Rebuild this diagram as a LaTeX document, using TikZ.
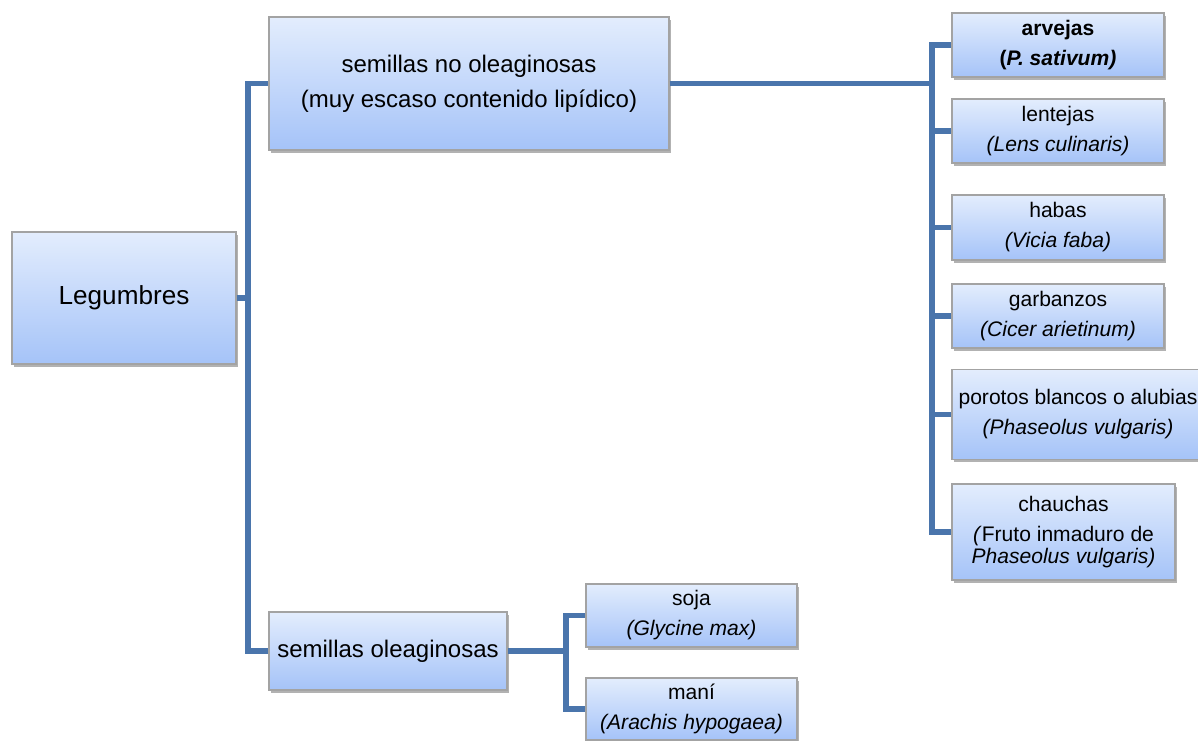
\documentclass[tikz,border=0pt]{standalone}
\usepackage{fontspec}
\setmainfont{Liberation Sans}
\usetikzlibrary{shadows}

\definecolor{linkblue}{HTML}{4A75AC}
\definecolor{boxtop}{HTML}{E3EDFD}
\definecolor{boxbot}{HTML}{A5C3F8}
\definecolor{boxline}{HTML}{A3A3A3}

\tikzset{
  box/.style = {
    draw=boxline, line width=0.8pt, top color=boxtop, bottom color=boxbot,
    align=center, inner sep=0pt,
    drop shadow={shadow xshift=1.5pt, shadow yshift=-2pt, opacity=0.3, fill=black},
    font=\fontsize{15.8}{22.5}\selectfont
  },
  link/.style = {draw=linkblue, line width=3.8pt}
}

\begin{document}
\begin{tikzpicture}[x=0.75pt, y=-0.75pt]
  \useasboundingbox (0,0) rectangle (1198,740);

  % Legumbres
  \node[box, minimum width=168pt, minimum height=99pt, font=\fontsize{19.6}{26}\selectfont]
    (leg) at (124,298) {Legumbres};

  % semillas
  \node[box, minimum width=300pt, minimum height=99.75pt, font=\fontsize{18}{26}\selectfont]
    (sno) at (469,83.5) {semillas no oleaginosas\\(muy escaso contenido lipídico)};
  \node[box, minimum width=178.5pt, minimum height=58.5pt, font=\fontsize{18}{26}\selectfont]
    (sol) at (388,651) {semillas oleaginosas};

  % no oleaginosas
  \node[box, minimum width=159pt, minimum height=48pt] (arv) at (1058,45)
    {\textbf{arvejas}\\\textbf{(\textit{P. sativum)}}};
  \node[box, minimum width=159pt, minimum height=48pt] (len) at (1058,131)
    {lentejas\\\textit{(Lens culinaris)}};
  \node[box, minimum width=159pt, minimum height=48.75pt] (hab) at (1058,227.5)
    {habas\\\textit{(Vicia faba)}};
  \node[box, minimum width=159pt, minimum height=48pt] (gar) at (1058,316)
    {garbanzos\\\textit{(Cicer arietinum)}};
  \node[box, minimum width=189pt, minimum height=67.5pt] (por) at (1078,414.5)
    {porotos blancos o alubias\\\textit{(Phaseolus vulgaris)}};
  \node[box, minimum width=167.25pt, minimum height=72pt] (cha) at (1063.5,532)
    {chauchas\\\textit{(}Fruto inmaduro de\\[-6pt]\textit{Phaseolus vulgaris)}};

  % oleaginosas
  \node[box, minimum width=158.25pt, minimum height=47.25pt] (soja) at (691.5,615.5)
    {soja\\\textit{(Glycine max)}};
  \node[box, minimum width=158.25pt, minimum height=46.5pt] (mani) at (691.5,709)
    {maní\\\textit{(Arachis hypogaea)}};

  % connectors
  \coordinate (jl) at (248,298);
  \coordinate (jn) at (932,83.5);
  \coordinate (jo) at (566,651);

  \draw[link] (leg.east) -- (jl);
  \draw[link] (jl) |- (sno.west);
  \draw[link] (jl) |- (sol.west);

  \draw[link] (sno.east) -- (jn);
  \foreach \b in {arv, len, hab, gar, por, cha}
    \draw[link] (jn) |- (\b.west);

  \draw[link] (sol.east) -- (jo);
  \foreach \b in {soja, mani}
    \draw[link] (jo) |- (\b.west);

\end{tikzpicture}
\end{document}
